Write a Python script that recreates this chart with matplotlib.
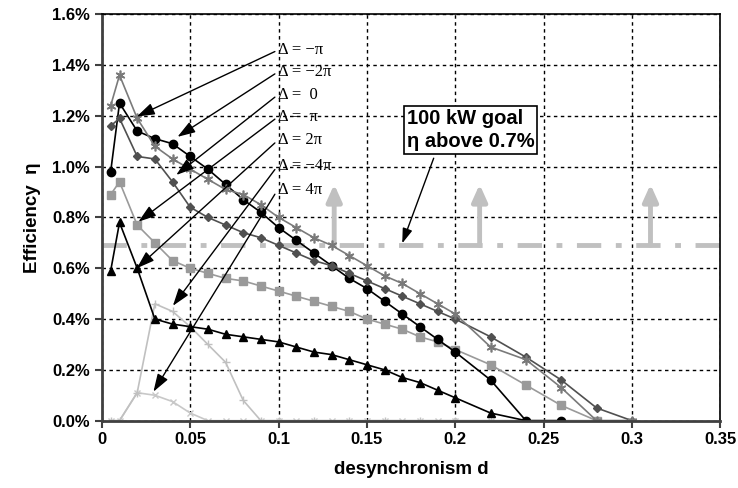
import matplotlib
matplotlib.use("Agg")
import matplotlib.pyplot as plt
from matplotlib.ticker import FuncFormatter, MultipleLocator

plt.rcParams['font.family'] = ['Liberation Sans', 'DejaVu Sans']

# desynchronism d (x) and efficiency in % (y) for each series
d_circle = [0.005, 0.01, 0.02, 0.03, 0.04, 0.05, 0.06, 0.07, 0.08, 0.09, 0.1, 0.11, 0.12,
            0.13, 0.14, 0.15, 0.16, 0.17, 0.18, 0.19, 0.2, 0.22, 0.24, 0.26]
eta_circle = [0.98, 1.25, 1.14, 1.11, 1.09, 1.04, 0.99, 0.93, 0.87, 0.82, 0.76, 0.71, 0.66,
              0.61, 0.56, 0.52, 0.47, 0.42, 0.37, 0.32, 0.27, 0.16, 0.0, 0.0]

d_star = [0.005, 0.01, 0.02, 0.03, 0.04, 0.05, 0.06, 0.07, 0.08, 0.09, 0.1, 0.11, 0.12,
          0.13, 0.14, 0.15, 0.16, 0.17, 0.18, 0.19, 0.2, 0.22, 0.24, 0.26, 0.28, 0.3]
eta_star = [1.24, 1.36, 1.19, 1.08, 1.03, 0.99, 0.95, 0.91, 0.89, 0.85, 0.80, 0.76, 0.72,
            0.69, 0.65, 0.61, 0.57, 0.54, 0.50, 0.46, 0.42, 0.29, 0.24, 0.13, 0.0, 0.0]

d_diamond = [0.005, 0.01, 0.02, 0.03, 0.04, 0.05, 0.06, 0.07, 0.08, 0.09, 0.1, 0.11, 0.12,
             0.13, 0.14, 0.15, 0.16, 0.17, 0.18, 0.19, 0.2, 0.22, 0.24, 0.26, 0.28, 0.3]
eta_diamond = [1.16, 1.19, 1.04, 1.03, 0.94, 0.84, 0.80, 0.77, 0.74, 0.72, 0.69, 0.66, 0.63,
               0.61, 0.58, 0.55, 0.52, 0.49, 0.46, 0.43, 0.40, 0.33, 0.25, 0.16, 0.05, 0.0]

d_square = [0.005, 0.01, 0.02, 0.03, 0.04, 0.05, 0.06, 0.07, 0.08, 0.09, 0.1, 0.11, 0.12,
            0.13, 0.14, 0.15, 0.16, 0.17, 0.18, 0.19, 0.2, 0.22, 0.24, 0.26, 0.28]
eta_square = [0.89, 0.94, 0.77, 0.70, 0.63, 0.60, 0.58, 0.56, 0.55, 0.53, 0.51, 0.49, 0.47,
              0.45, 0.43, 0.40, 0.38, 0.36, 0.33, 0.31, 0.28, 0.22, 0.14, 0.06, 0.0]

d_tri = [0.005, 0.01, 0.02, 0.03, 0.04, 0.05, 0.06, 0.07, 0.08, 0.09, 0.1, 0.11, 0.12,
         0.13, 0.14, 0.15, 0.16, 0.17, 0.18, 0.19, 0.2, 0.22, 0.24]
eta_tri = [0.59, 0.78, 0.60, 0.40, 0.38, 0.37, 0.36, 0.34, 0.33, 0.32, 0.31, 0.29, 0.27,
           0.26, 0.24, 0.22, 0.20, 0.17, 0.15, 0.12, 0.09, 0.03, 0.0]

d_plus = [0.005, 0.01, 0.02, 0.03, 0.04, 0.05, 0.06, 0.07, 0.08, 0.09, 0.1, 0.12, 0.14,
          0.16, 0.18, 0.2, 0.22, 0.24, 0.26, 0.28, 0.3]
eta_plus = [0.0, 0.0, 0.11, 0.46, 0.43, 0.37, 0.30, 0.23, 0.08, 0.0, 0.0, 0.0, 0.0,
            0.0, 0.0, 0.0, 0.0, 0.0, 0.0, 0.0, 0.0]

d_xlight = [0.005, 0.01, 0.02, 0.03, 0.04, 0.05, 0.06, 0.07, 0.08, 0.09, 0.1, 0.11, 0.12,
            0.13, 0.14, 0.15, 0.16, 0.17, 0.18, 0.19, 0.2, 0.22, 0.24, 0.26, 0.28, 0.3]
eta_xlight = [0.0, 0.0, 0.11, 0.10, 0.075, 0.03, 0.0, 0.0, 0.0, 0.0, 0.0, 0.0, 0.0,
              0.0, 0.0, 0.0, 0.0, 0.0, 0.0, 0.0, 0.0, 0.0, 0.0, 0.0, 0.0, 0.0]

# labels: text, text y, arrow tip (d, eta)
delta_labels = ['Δ = −π', 'Δ = −2π', 'Δ =  0', 'Δ =  π', 'Δ = 2π', 'Δ = −4π', 'Δ = 4π']
label_y = [1.458, 1.372, 1.282, 1.195, 1.103, 1.003, 0.909]
tip_d = [0.0198, 0.0428, 0.0421, 0.0207, 0.0198, 0.0402, 0.0292]
tip_eta = [1.197, 1.117, 0.967, 0.783, 0.600, 0.452, 0.114]

goal = 0.69
goal_arrows_d = [0.1315, 0.2138, 0.3105]

fig = plt.figure(figsize=(7.38, 4.88), dpi=100)
ax = fig.add_axes([0.138, 0.138, 0.838, 0.833])

ax.grid(True, color='black', linestyle=(0, (2.5, 2.5)), linewidth=1)
ax.set_axisbelow(True)

ax.axhline(goal, color='#c0c0c0', lw=3.5, linestyle=(0, (5, 3, 1.2, 3)), zorder=1.5)
for gd in goal_arrows_d:
    ax.annotate('', xy=(gd, 0.93), xytext=(gd, goal),
                arrowprops=dict(arrowstyle='-|>,head_width=0.45,head_length=1.0',
                                color='#c0c0c0', lw=3.5, shrinkA=0, shrinkB=0), zorder=1.6)

ax.plot(d_xlight, eta_xlight, color='#c8c8c8', lw=1.2, marker='x', ms=5, mew=1)
ax.plot(d_plus, eta_plus, color='#c0c0c0', lw=1.2, marker='+', ms=6, mew=1)
ax.plot(d_square, eta_square, color='#9a9a9a', lw=1.2, marker='s', ms=5.5)
ax.plot(d_tri, eta_tri, color='black', lw=1.2, marker='^', ms=6)
ax.plot(d_circle, eta_circle, color='black', lw=1.2, marker='o', ms=6)
ax.plot(d_diamond, eta_diamond, color='#505050', lw=1.2, marker='D', ms=4)
ax.plot(d_star, eta_star, color='#7a7a7a', lw=1.2, marker=(6, 2, 0), ms=7, mew=1.2)

for txt, ly, td, te in zip(delta_labels, label_y, tip_d, tip_eta):
    ax.annotate(txt, xy=(td, te), xytext=(0.0995, ly), ha='left', va='center',
                family=['Liberation Serif', 'DejaVu Serif'], fontsize=12,
                arrowprops=dict(arrowstyle='-|>,head_width=0.3,head_length=0.9',
                                color='black', lw=1, relpos=(0, 0.5),
                                shrinkA=0, shrinkB=0))

ax.text(0.1725, 1.143, '100 kW goal\nη above 0.7%', ha='left', va='center',
        fontsize=14.5, fontweight='bold', linespacing=1.25, zorder=5,
        bbox=dict(boxstyle='square,pad=0.15', fc='white', ec='black', lw=1.2))
ax.annotate('', xy=(0.170, 0.698), xytext=(0.1878, 1.033),
            arrowprops=dict(arrowstyle='-|>,head_width=0.3,head_length=0.9',
                            color='black', lw=1, shrinkA=0, shrinkB=0))

ax.set_xlim(0, 0.35)
ax.set_ylim(0, 1.6)
ax.xaxis.set_major_locator(MultipleLocator(0.05))
ax.yaxis.set_major_locator(MultipleLocator(0.2))
ax.xaxis.set_major_formatter(FuncFormatter(lambda v, p: '0' if v == 0 else f'{v:g}'))
ax.yaxis.set_major_formatter(FuncFormatter(lambda v, p: f'{v:.1f}%'))
for lab in ax.get_xticklabels() + ax.get_yticklabels():
    lab.set_fontweight('bold')
ax.tick_params(labelsize=12, direction='out', length=5, width=1.5, color='#404040')

for side in ['left', 'bottom']:
    ax.spines[side].set_linewidth(2)
    ax.spines[side].set_color('#404040')
for side in ['top', 'right']:
    ax.spines[side].set_linewidth(1.2)
    ax.spines[side].set_color('black')

ax.set_xlabel('desynchronism d', fontsize=13.5, fontweight='bold', labelpad=10)
ax.set_ylabel('Efficiency  η', fontsize=13.5, fontweight='bold', labelpad=8)

fig.savefig('out.png', dpi=100)
